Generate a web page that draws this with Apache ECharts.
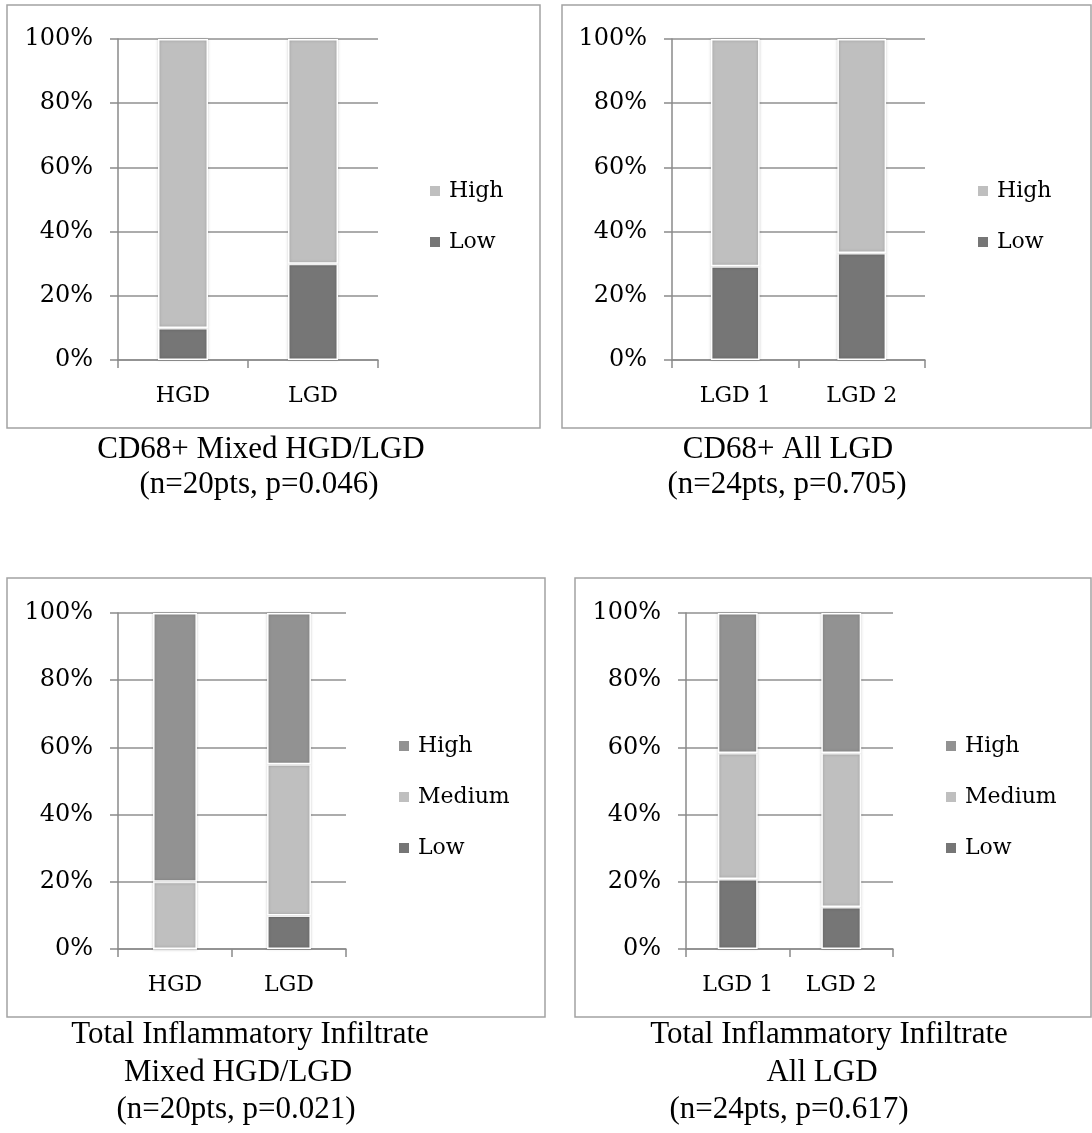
<!DOCTYPE html>
<html>
<head>
<meta charset="utf-8">
<script src="https://cdn.jsdelivr.net/npm/echarts@6/dist/echarts.min.js"></script>
<style>
  html, body { margin: 0; padding: 0; background: #ffffff; }
  #page { position: relative; width: 1092px; height: 1133px; overflow: hidden; }
  .layer { position: absolute; left: 0; top: 0; width: 1092px; height: 1133px; }
</style>
</head>
<body>
<div id="page">
  <div class="layer" id="c1"></div>
  <div class="layer" id="c2"></div>
  <div class="layer" id="c3"></div>
  <div class="layer" id="c4"></div>
</div>
<script>
// ---- data (percent of patients per group) ----
const yTickLabels = ['0%', '20%', '40%', '60%', '80%', '100%'];

const cd68MixedCats = ['HGD', 'LGD'];
const cd68MixedLow = [10, 30];
const cd68MixedHigh = [90, 70];
const cd68MixedCaption = ['CD68+ Mixed HGD/LGD', '(n=20pts, p=0.046)'];

const cd68AllCats = ['LGD 1', 'LGD 2'];
const cd68AllLow = [29.2, 33.3];
const cd68AllHigh = [70.8, 66.7];
const cd68AllCaption = ['CD68+ All LGD', '(n=24pts, p=0.705)'];

const infMixedCats = ['HGD', 'LGD'];
const infMixedLow = [0, 10];
const infMixedMedium = [20, 45];
const infMixedHigh = [80, 45];
const infMixedCaption = ['Total Inflammatory Infiltrate', 'Mixed HGD/LGD', '(n=20pts, p=0.021)'];

const infAllCats = ['LGD 1', 'LGD 2'];
const infAllLow = [20.8, 12.5];
const infAllMedium = [37.5, 45.8];
const infAllHigh = [41.7, 41.7];
const infAllCaption = ['Total Inflammatory Infiltrate', 'All LGD', '(n=24pts, p=0.617)'];

// ---- styling ----
const TICK_FONT = '"DejaVu Serif", serif';
const CAPTION_FONT = '"Liberation Serif", "Times New Roman", serif';
const DARK = '#767676', LIGHT = '#bfbfbf', MID = '#929292';
const AXIS_GRAY = '#8a8a8a';

function barSeries(name, values, color) {
  return {
    type: 'bar', name: name, stack: 'total', data: values,
    barWidth: '38.5%',
    itemStyle: {
      color: color, borderColor: '#ffffff', borderWidth: 1.5,
      shadowBlur: 3, shadowColor: 'rgba(0,0,0,0.22)'
    },
    emphasis: { disabled: true },
    animation: false
  };
}

function buildPanel(el, p) {
  const chart = echarts.init(document.getElementById(el), null, { renderer: 'canvas' });
  const graphics = [{
    type: 'rect', silent: true, z: -1,
    shape: { x: p.box[0], y: p.box[1], width: p.box[2] - p.box[0], height: p.box[3] - p.box[1] },
    style: { fill: 'transparent', stroke: '#a3a3a3', lineWidth: 1.5 }
  }];
  p.caption.forEach(function (line, i) {
    graphics.push({
      type: 'text', silent: true,
      x: p.capX[i], y: p.capY[i],
      style: {
        text: line, font: '31px ' + CAPTION_FONT, fill: '#000000',
        textAlign: 'center', textVerticalAlign: 'middle'
      }
    });
  });
  chart.setOption({
    animation: false,
    backgroundColor: 'transparent',
    graphic: graphics,
    grid: { left: p.grid[0], top: p.grid[1], width: p.grid[2] - p.grid[0], height: p.grid[3] - p.grid[1] },
    legend: {
      orient: 'vertical', left: p.legend[0], top: p.legend[1], padding: 0,
      icon: 'rect', itemWidth: 12, itemHeight: 12, itemGap: 27,
      data: p.legendOrder,
      textStyle: { fontFamily: TICK_FONT, fontSize: 22, color: '#000000', lineHeight: 24, padding: [0, 0, 0, 3] },
      selectedMode: false
    },
    xAxis: {
      type: 'category', data: p.cats, boundaryGap: true,
      axisLine: { show: true, lineStyle: { color: AXIS_GRAY, width: 1.5 } },
      axisTick: { show: true, length: 8, lineStyle: { color: AXIS_GRAY, width: 1.5 } },
      axisLabel: { fontFamily: TICK_FONT, fontSize: 22, color: '#000000', margin: 25 }
    },
    yAxis: {
      type: 'value', min: 0, max: 100, interval: 20,
      axisLine: { show: true, lineStyle: { color: AXIS_GRAY, width: 1.5 } },
      axisTick: { show: true, length: 8, lineStyle: { color: AXIS_GRAY, width: 1.5 } },
      splitLine: { show: true, lineStyle: { color: '#909090', width: 1.5 } },
      axisLabel: {
        fontFamily: TICK_FONT, fontSize: 24, color: '#000000', margin: 25,
        formatter: function (v) { return yTickLabels[Math.round(v / 20)]; }
      }
    },
    series: p.series
  });
}

buildPanel('c1', {
  box: [7, 5, 540, 428], grid: [118, 39, 378, 360], legend: [428, 179],
  cats: cd68MixedCats, legendOrder: ['High', 'Low'],
  caption: cd68MixedCaption, capX: [261, 259], capY: [450, 485],
  series: [barSeries('Low', cd68MixedLow, DARK), barSeries('High', cd68MixedHigh, LIGHT)]
});

buildPanel('c2', {
  box: [562, 5, 1091, 428], grid: [672, 39, 925, 360], legend: [976, 179],
  cats: cd68AllCats, legendOrder: ['High', 'Low'],
  caption: cd68AllCaption, capX: [788, 787], capY: [450, 485],
  series: [barSeries('Low', cd68AllLow, DARK), barSeries('High', cd68AllHigh, LIGHT)]
});

buildPanel('c3', {
  box: [7, 578, 545, 1017], grid: [118, 613, 346, 949], legend: [397, 734],
  cats: infMixedCats, legendOrder: ['High', 'Medium', 'Low'],
  caption: infMixedCaption, capX: [250, 238, 236], capY: [1035, 1073, 1110],
  series: [barSeries('Low', infMixedLow, DARK), barSeries('Medium', infMixedMedium, LIGHT), barSeries('High', infMixedHigh, MID)]
});

buildPanel('c4', {
  box: [575, 578, 1091, 1017], grid: [686, 613, 893, 949], legend: [944, 734],
  cats: infAllCats, legendOrder: ['High', 'Medium', 'Low'],
  caption: infAllCaption, capX: [829, 822, 789], capY: [1035, 1073, 1110],
  series: [barSeries('Low', infAllLow, DARK), barSeries('Medium', infAllMedium, LIGHT), barSeries('High', infAllHigh, MID)]
});
</script>
</body>
</html>
